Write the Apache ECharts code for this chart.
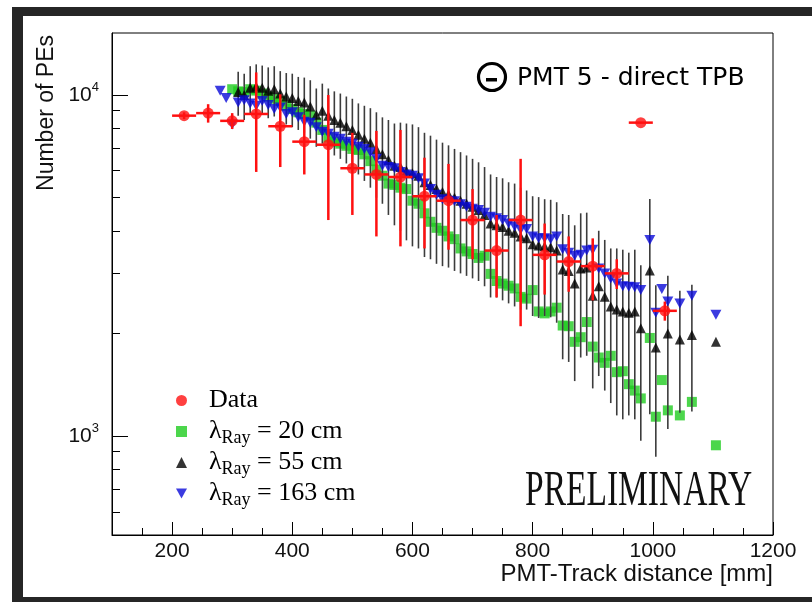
<!DOCTYPE html>
<html>
<head>
<meta charset="utf-8">
<script src="https://cdn.jsdelivr.net/npm/echarts@6/dist/echarts.min.js"></script>
<style>
  html, body { margin: 0; padding: 0; background: #ffffff; }
  #chart { width: 812px; height: 602px; }
</style>
</head>
<body>
<div id="chart"></div>
<script>
// ---- Measured data: PMT 5, direct TPB light ----
const dataX    = [220, 260, 300, 340, 380, 420, 460, 500, 540, 580, 620, 660, 700, 740, 780, 820, 860, 900, 940, 980, 1020];
const dataY    = [8700, 8850, 8400, 8800, 8100, 7300, 7150, 6100, 5850, 5750, 5050, 4900, 4300, 3500, 4300, 3400, 3250, 3150, 3000, 8300, 2330];
const dataYErr = [200, 550, 450, 2850, 1950, 1450, 2850, 1650, 2000, 2150, 1500, 1380, 1000, 950, 2200, 800, 600, 650, 300, 0, 150];
const dataXErr = [20, 20, 20, 20, 20, 20, 20, 20, 20, 20, 20, 20, 20, 20, 20, 20, 20, 20, 20, 20, 20];

// ---- Simulation: PMT-track distances shared by the three Rayleigh lengths ----
const simX = [280, 290, 300, 310, 320, 330, 340, 350, 360, 370,
              380, 390, 400, 410, 420, 430, 440, 450, 460, 470,
              480, 490, 500, 510, 520, 530, 540, 550, 560, 570,
              580, 590, 600, 610, 620, 630, 640, 650, 660, 670,
              680, 690, 700, 710, 720, 730, 740, 750, 760, 770,
              780, 790, 800, 810, 820, 830, 840, 850, 860, 870,
              880, 890, 900, 910, 920, 930, 940, 950, 960, 970,
              980,
              995, 1005, 1015, 1025, 1045, 1065, 1105];

// lambda_Ray = 20 cm
const ray20Y = [null, null, 10400, 10250, 10200, 10400, 10300, 10100, 9900, 9750,
                9600, 9300, 9100, 8900, 8800, 8700, 8300, 7900, 7500, 7300,
                7200, 7100, 6950, 6900, 6700, 6400, 6050, 5800, 5500, 5450,
                5350, 5300, 4900, 4800, 4500, 4250, 4080, 4000, 3850, 3780,
                3550, 3480, 3420, 3330, 3380, 2990, 2850, 2800, 2760, 2710,
                2560, 2530, 2680, 2320, 2290, 2320, 2380, 2110, 2100, 1890,
                1950, 2160, 1830, 1700, 1640, 1720, 1540, 1550, 1420, 1360,
                1290,
                1940, 1140, 1460, 1190, 1150, 1260, 940];

// lambda_Ray = 55 cm (with its statistical uncertainty)
const ray55Y = [null, null, null, 10200, 10000, 10500, 10600, 10500, 10300, 10400,
                10100, 9900, 9800, 9600, 9500, 9250, 8750, 9000, 8700, 8450,
                8300, 8100, 7900, 7650, 7450, 7250, 6950, 6700, 6450, 6200,
                6150, 6000, 5900, 5800, 5550, 5450, 5300, 5200, 5120, 5000,
                4900, 4800, 4700, 4600, 4450, 4200, 4150, 4100, 4000, 3950,
                3850, 3800, 3650, 3620, 3600, 3580, 3500, 3080, 3050, 2800,
                3100, 3120, 2580, 2750, 2560, 2400, 2350, 2320, 2300, 2320,
                2070,
                3060, 1820, null, 2000, 1920, 1980, 1890];
const ray55Err = [null, null, null, 1500, 1550, 1650, 1700, 1700, 1750, 1750,
                  1650, 1700, 1750, 1700, 1750, 1800, 1700, 1800, 1750, 1800,
                  1800, 1800, 1850, 1800, 1850, 1900, 1950, 1900, 2000, 2050,
                  2150, 2250, 2300, 2250, 2200, 2150, 2100, 2050, 2000, 1950,
                  1900, 1850, 1800, 1750, 1700, 1650, 1600, 1600, 1550, 1550,
                  1500, 1450, 1400, 1400, 1350, 1350, 1350, 1400, 1400, 1350,
                  1400, 1400, 1200, 1250, 1200, 1150, 1200, 1200, 1150, 1200,
                  1100,
                  1900, 950, null, 950, 750, 800, 0];

// lambda_Ray = 163 cm
const ray163Y = [10300, 9800, 8200, 9500, 9650, 9450, 9300, 9600, 9350, 9100,
                 9200, 8800, 8900, 8600, 8350, 8300, 8050, 7800, 7700, 7550,
                 7450, 7300, 7200, 7050, 6950, 6800, 6500, 6200, 6150, 6100,
                 5950, 5850, 5800, 5700, 5500, 5300, 5100, 4950, 4900, 4880,
                 4780, 4700, 4640, 4600, 4520, 4400, 4350, 4300, 4200, 4120,
                 4030, 4050, 3850, 3800, 3800, 3780, 3850, 3530, 3450, 3380,
                 3400, 3500, 3520, 3100, 3000, 2900, 2800, 2750, 2740, 2730,
                 2680,
                 3760, 2300, 2700, 2480, 2450, 2580, 2270];

// ---- Axis tick values ----
const xMajorTicks = [200, 400, 600, 800, 1000, 1200];
const xMinorTicks = [150, 250, 300, 350, 450, 500, 550, 650, 700, 750, 850, 900, 950, 1050, 1100, 1150];
const yMajorTicks = [1000, 10000];
const yMinorTicks = [600, 700, 800, 900, 2000, 3000, 4000, 5000, 6000, 7000, 8000, 9000];

const X_MIN = 100, X_MAX = 1200, Y_MIN = 513, Y_MAX = 15200;

const SANS = '"Liberation Sans", Arial, Helvetica, sans-serif';
const SERIF = '"Liberation Serif", "Times New Roman", serif';

// downward-pointing triangle marker
const DOWN_TRIANGLE = 'path://M0,0 L10,0 L5,9 Z';

const NAME_DATA = 'Data';
const NAME_20 = 'λRay = 20 cm';
const NAME_55 = 'λRay = 55 cm';
const NAME_163 = 'λRay = 163 cm';
const legendText = {
  [NAME_DATA]: '{a|Data}',
  [NAME_20]: '{a|λ}{s|Ray}{n| = 20 cm}',
  [NAME_55]: '{a|λ}{s|Ray}{n| = 55 cm}',
  [NAME_163]: '{a|λ}{s|Ray}{n| = 163 cm}'
};

function pairs(xs, ys) {
  const out = [];
  xs.forEach((x, i) => { if (ys[i] != null) out.push([x, ys[i]]); });
  return out;
}

function errorRows(xs, ys, yErr, xErr) {
  const out = [];
  xs.forEach((x, i) => {
    if (ys[i] != null && yErr[i] != null) out.push([x, ys[i], yErr[i], xErr ? xErr[i] : 0]);
  });
  return out;
}

// Error bars drawn through the grid's own coordinate system
function errorBarSeries(rows, color, width, z) {
  return {
    type: 'custom',
    z: z,
    silent: true,
    clip: true,
    data: rows,
    encode: { x: 0, y: 1 },
    renderItem: function (params, api) {
      const x = api.value(0), y = api.value(1), e = api.value(2), xe = api.value(3);
      const children = [];
      if (e > 0) {
        const top = api.coord([x, y + e]);
        const bot = api.coord([x, Math.max(y - e, 1)]);
        children.push({ type: 'line', shape: { x1: top[0], y1: top[1], x2: bot[0], y2: bot[1] },
                        style: { stroke: color, lineWidth: width } });
      }
      if (xe > 0) {
        const l = api.coord([x - xe, y]);
        const r = api.coord([x + xe, y]);
        children.push({ type: 'line', shape: { x1: l[0], y1: l[1], x2: r[0], y2: r[1] },
                        style: { stroke: color, lineWidth: width } });
      }
      return { type: 'group', children: children };
    }
  };
}

const chart = echarts.init(document.getElementById('chart'), null, { renderer: 'canvas' });

const option = {
  backgroundColor: '#ffffff',
  animation: false,
  grid: { left: 112, top: 33, width: 661, height: 502, show: true, borderColor: '#000', borderWidth: 1 },
  xAxis: [
    {
      type: 'value', min: X_MIN, max: X_MAX, position: 'bottom',
      axisLine: { show: true, onZero: false, lineStyle: { color: '#000', width: 1 } },
      axisTick: { show: true, inside: true, length: 13, customValues: xMajorTicks, lineStyle: { color: '#000' } },
      axisLabel: { customValues: xMajorTicks, margin: 6, color: '#111', fontFamily: SANS, fontSize: 21,
                   formatter: function (v) { return String(v); } },
      splitLine: { show: false }
    },
    {
      type: 'value', min: X_MIN, max: X_MAX, position: 'bottom',
      axisLine: { show: false, onZero: false },
      axisTick: { show: true, inside: true, length: 7, customValues: xMinorTicks, lineStyle: { color: '#000' } },
      axisLabel: { show: false },
      splitLine: { show: false }
    }
  ],
  yAxis: [
    {
      type: 'log', logBase: 10, min: Y_MIN, max: Y_MAX, position: 'left',
      axisLine: { show: true, onZero: false, lineStyle: { color: '#000', width: 1 } },
      axisTick: { show: true, inside: true, length: 16, customValues: yMajorTicks, lineStyle: { color: '#000' } },
      axisLabel: {
        customValues: yMajorTicks, margin: 13,
        formatter: function (v) { return '{b|10}{s|' + Math.round(Math.log10(v)) + '}'; },
        rich: {
          b: { fontFamily: SANS, fontSize: 21, lineHeight: 28, color: '#111' },
          s: { fontFamily: SANS, fontSize: 13, lineHeight: 13, verticalAlign: 'top', color: '#111' }
        }
      },
      splitLine: { show: false }
    },
    {
      type: 'log', logBase: 10, min: Y_MIN, max: Y_MAX, position: 'left',
      axisLine: { show: false, onZero: false },
      axisTick: { show: true, inside: true, length: 8, customValues: yMinorTicks, lineStyle: { color: '#000' } },
      axisLabel: { show: false },
      splitLine: { show: false }
    }
  ],
  legend: {
    data: [
      { name: NAME_DATA, icon: 'circle' },
      { name: NAME_20, icon: 'rect' },
      { name: NAME_55, icon: 'triangle' },
      { name: NAME_163, icon: DOWN_TRIANGLE }
    ],
    orient: 'vertical', left: 171, top: 380,
    itemWidth: 11, itemHeight: 11, itemGap: 0,
    selectedMode: false,
    formatter: function (name) { return legendText[name]; },
    textStyle: {
      color: '#000', fontFamily: SERIF, fontSize: 26, lineHeight: 31, height: 31,
      rich: {
        a: { fontFamily: SERIF, fontSize: 26, lineHeight: 31, height: 31, padding: [0, 0, 0, 17], color: '#000' },
        n: { fontFamily: SERIF, fontSize: 26, lineHeight: 31, height: 31, color: '#000' },
        s: { fontFamily: SERIF, fontSize: 18, lineHeight: 10, verticalAlign: 'bottom', color: '#000' }
      }
    }
  },
  series: [
    {
      name: NAME_20, type: 'scatter', z: 2, symbol: 'rect', symbolSize: 10,
      itemStyle: { color: '#1fcc1f' }, data: pairs(simX, ray20Y)
    },
    errorBarSeries(errorRows(simX, ray55Y, ray55Err, null), '#3c3c3c', 1.6, 3),
    {
      name: NAME_55, type: 'scatter', z: 4, symbol: 'triangle', symbolSize: 10,
      itemStyle: { color: '#000000' }, data: pairs(simX, ray55Y)
    },
    {
      name: NAME_163, type: 'scatter', z: 5, symbol: DOWN_TRIANGLE, symbolSize: [11, 10],
      itemStyle: { color: '#0a0ad8' }, data: pairs(simX, ray163Y)
    },
    errorBarSeries(errorRows(dataX, dataY, dataYErr, dataXErr), '#ff1010', 2.5, 6),
    {
      name: NAME_DATA, type: 'scatter', z: 7, symbol: 'circle', symbolSize: 11,
      itemStyle: { color: '#ff1010' }, data: pairs(dataX, dataY)
    }
  ],
  graphic: [
    // dark picture frame
    { type: 'rect', shape: { x: 12, y: 7, width: 800, height: 9 }, style: { fill: '#262626' }, z: 100 },
    { type: 'rect', shape: { x: 12, y: 7, width: 11, height: 595 }, style: { fill: '#262626' }, z: 100 },
    { type: 'rect', shape: { x: 12, y: 597, width: 800, height: 5 }, style: { fill: '#262626' }, z: 100 },
    // axis titles
    { type: 'text', x: 47, y: 35, rotation: Math.PI / 2,
      style: { text: 'Number of PEs', font: '23px ' + SANS, fill: '#111', align: 'right', verticalAlign: 'middle' } },
    { type: 'text', x: 773, y: 574,
      style: { text: 'PMT-Track distance [mm]', font: '24px ' + SANS, fill: '#111', align: 'right', verticalAlign: 'middle' } },
    // PMT badge
    { type: 'circle', shape: { cx: 492, cy: 77, r: 13.5 }, style: { fill: 'none', stroke: '#000', lineWidth: 3.2 } },
    { type: 'rect', shape: { x: 486, y: 78, width: 11, height: 3.5 }, style: { fill: '#000' } },
    { type: 'text', x: 517, y: 78,
      style: { text: 'PMT 5 - direct TPB', font: '25px "DejaVu Sans", sans-serif', fill: '#000', align: 'left', verticalAlign: 'middle' } },
    // watermark
    { type: 'text', x: 525, y: 492, scaleX: 0.67, scaleY: 1,
      style: { text: 'PRELIMINARY', font: '50px ' + SERIF, fill: '#111', align: 'left', verticalAlign: 'middle' } }
  ]
};

chart.setOption(option);
</script>
</body>
</html>
